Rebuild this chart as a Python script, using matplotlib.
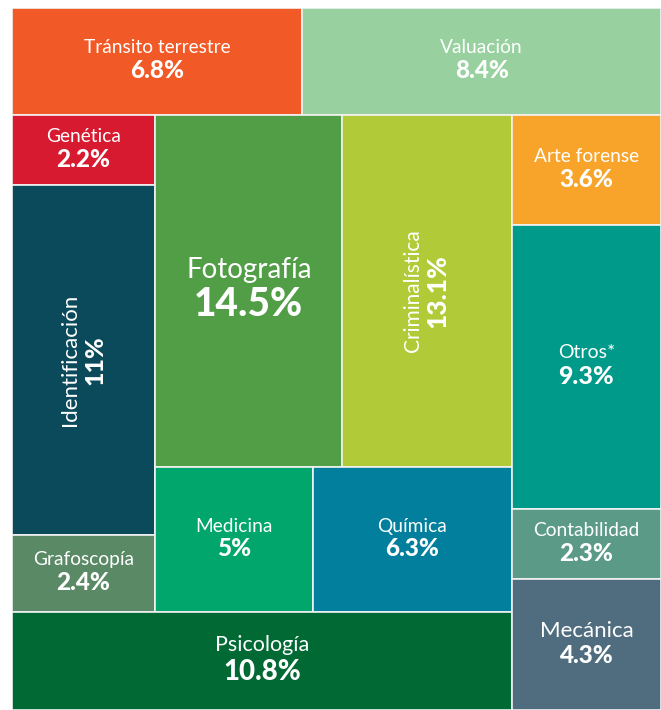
import matplotlib
matplotlib.use("Agg")
import matplotlib.pyplot as plt
from matplotlib.patches import Rectangle

# ---- data ----
categories = ["Tránsito terrestre", "Valuación", "Genética", "Identificación",
              "Grafoscopía", "Fotografía", "Criminalística", "Medicina",
              "Química", "Psicología", "Arte forense", "Otros*",
              "Contabilidad", "Mecánica"]
values = [6.8, 8.4, 2.2, 11, 2.4, 14.5, 13.1, 5, 6.3, 10.8, 3.6, 9.3, 2.3, 4.3]

# ---- styles ----
colors = {
    "Tránsito terrestre": "#F15A27", "Valuación": "#98D19F", "Genética": "#D71A30",
    "Identificación": "#0B4A5A", "Grafoscopía": "#5A8A65", "Fotografía": "#529E47",
    "Criminalística": "#B0CB37", "Medicina": "#00A66B", "Química": "#027F9D",
    "Psicología": "#006934", "Arte forense": "#F8A42B", "Otros*": "#009A8A",
    "Contabilidad": "#5A9A86", "Mecánica": "#4F6D7F",
}
fonts = {  # (name size, value size, rotation)
    "Fotografía": (20, 28, 0), "Criminalística": (15, 19, 90),
    "Identificación": (16, 18, 90), "Psicología": (15.5, 20, 0),
    "Mecánica": (16, 17.5, 0), "Otros*": (14, 18, 0),
}
default_font = (13.8, 17.5, 0)

# ---- layout structure (slice-and-dice, sizes from values) ----
tree = ("v", [
    ("h", ["Tránsito terrestre", "Valuación"]),
    ("h", [
        ("v", [
            ("h", [
                ("v", ["Genética", "Identificación", "Grafoscopía"]),
                ("v", [("h", ["Fotografía", "Criminalística"]),
                       ("h", ["Medicina", "Química"])]),
            ]),
            "Psicología",
        ]),
        ("v", ["Arte forense", "Otros*", "Contabilidad", "Mecánica"]),
    ]),
])

val = dict(zip(categories, values))


def total(node):
    if isinstance(node, str):
        return val[node]
    return sum(total(c) for c in node[1])


rects = {}


def layout(node, x, y, w, h):
    # y measured downward from top (axis is inverted)
    if isinstance(node, str):
        rects[node] = (x, y, w, h)
        return
    kind, children = node
    tot = total(node)
    pos = 0.0
    for c in children:
        frac = total(c) / tot
        if kind == "h":
            layout(c, x + pos * w, y, w * frac, h)
        else:
            layout(c, x, y + pos * h, w, h * frac)
        pos += frac


layout(tree, 0.0, 0.0, 1.0, 1.0)

plt.rcParams["font.family"] = ["Lato", "DejaVu Sans"]
fig = plt.figure(figsize=(6.61, 7.10), dpi=100)
ax = fig.add_axes([12 / 661, 0.0, 649 / 661, 702 / 710])
ax.set_xlim(0, 1)
ax.set_ylim(1, 0)
ax.axis("off")

for name, v in zip(categories, values):
    x, y, w, h = rects[name]
    ax.add_patch(Rectangle((x, y), w, h, facecolor=colors[name],
                           edgecolor="#F2F2F2", linewidth=1.2))
    nfs, vfs, rot = fonts.get(name, default_font)
    cx, cy = x + w / 2, y + h / 2
    label = f"{v:g}%"
    if rot == 0:
        ax.annotate(name, (cx, cy), xytext=(0, 0.55 * vfs), textcoords="offset points",
                    ha="center", va="center", color="white", fontsize=nfs)
        ax.annotate(label, (cx, cy), xytext=(0, -0.5 * nfs), textcoords="offset points",
                    ha="center", va="center", color="white", fontsize=vfs,
                    fontweight="black")
    else:
        ax.annotate(name, (cx, cy), xytext=(-0.55 * vfs, 0), textcoords="offset points",
                    ha="center", va="center", color="white", fontsize=nfs,
                    rotation=90)
        ax.annotate(label, (cx, cy), xytext=(0.5 * nfs, 0), textcoords="offset points",
                    ha="center", va="center", color="white", fontsize=vfs,
                    fontweight="black", rotation=90)

fig.savefig("out.png", dpi=100, facecolor="white")
